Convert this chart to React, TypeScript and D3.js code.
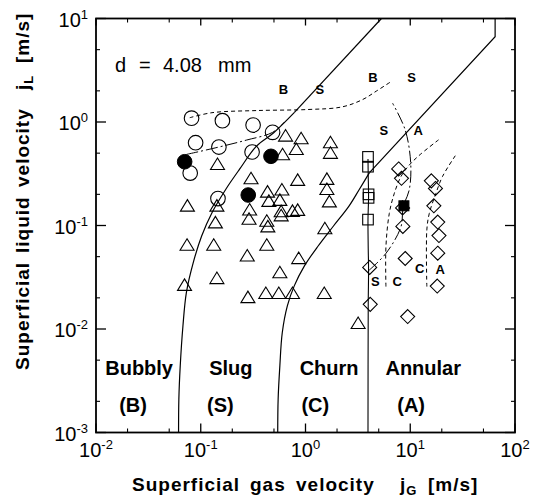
import React from 'react';
import * as d3 from 'd3';

type P = [number, number];

const xMajor = [1e-2, 1e-1, 1e0, 1e1, 1e2];
const xExponents = ['-2', '-1', '0', '1', '2'];
const yMajor = [1e-3, 1e-2, 1e-1, 1e0, 1e1];
const yExponents = ['-3', '-2', '-1', '0', '1'];
const minorMultipliers = [2, 5];

const openCircles: P[] = [
  [0.0817, 1.09], [0.161, 1.03], [0.316, 0.934], [0.485, 0.794], [0.0893, 0.631],
  [0.149, 0.573], [0.309, 0.513], [0.0793, 0.321], [0.146, 0.182],
];
const filledCircles: P[] = [[0.0702, 0.413], [0.468, 0.466], [0.284, 0.197]];
const triangles: P[] = [
  [0.0746, 0.154], [0.074, 0.0644], [0.07, 0.0264], [0.1445, 0.389], [0.1426, 0.154],
  [0.138, 0.106], [0.133, 0.0644], [0.1426, 0.0307], [0.302, 0.283], [0.293, 0.141],
  [0.289, 0.115], [0.278, 0.0508], [0.282, 0.0201], [0.434, 0.21], [0.447, 0.171],
  [0.427, 0.11], [0.437, 0.097], [0.427, 0.0644], [0.418, 0.022], [0.645, 0.731],
  [0.604, 0.483], [0.595, 0.22], [0.569, 0.175], [0.586, 0.136], [0.586, 0.124],
  [0.569, 0.035], [0.556, 0.022], [0.751, 0.137], [0.908, 0.689], [0.817, 0.543],
  [0.842, 0.273], [0.842, 0.14], [0.861, 0.0479], [0.751, 0.022], [1.73, 0.631],
  [1.73, 0.498], [1.6, 0.279], [1.6, 0.223], [1.69, 0.169], [1.53, 0.093],
  [1.51, 0.022], [3.18, 0.0113],
];
const openSquares: P[] = [[3.95, 0.46], [3.95, 0.37], [4.0, 0.2], [4.0, 0.185], [3.95, 0.114]];
const filledSquares: P[] = [[8.7, 0.155]];
const diamonds: P[] = [
  [7.75, 0.352], [8.25, 0.286], [8.45, 0.148], [8.5, 0.098], [8.95, 0.048],
  [4.1, 0.0393], [4.15, 0.0173], [9.45, 0.0132], [15.9, 0.27], [17.4, 0.228],
  [16.8, 0.155], [18.3, 0.108], [18.8, 0.08], [18.3, 0.054], [18.1, 0.026],
];

// boundary curves
const bsCurve: P[] = [
  [0.0614, 0.001], [0.0618, 0.0021], [0.0637, 0.0044], [0.0676, 0.0107], [0.0729, 0.0225],
  [0.0848, 0.0438], [0.102, 0.0792], [0.128, 0.133], [0.173, 0.223], [0.234, 0.348],
  [0.341, 0.585], [0.497, 0.787], [0.78, 1.23],
];
const bsStraight: P[] = [[0.78, 1.23], [5.31, 10]];
const scCurve: P[] = [
  [0.543, 0.001], [0.548, 0.0021], [0.569, 0.0044], [0.6, 0.0092], [0.671, 0.0167],
  [0.781, 0.0261], [0.977, 0.0407], [1.32, 0.0634], [1.85, 0.0989], [2.6, 0.154],
  [3.26, 0.223], [4.08, 0.324],
];
const scStraight: P[] = [[4.08, 0.324], [64.6, 6.67], [64.6, 10]];
const caLine: P[] = [
  [3.95, 0.44], [3.97, 0.3], [4.0, 0.19], [3.95, 0.114], [3.97, 0.06], [4.0, 0.038],
  [3.97, 0.017], [3.95, 0.001],
];
const saCurve: P[] = [
  [4.05, 0.037], [5.86, 0.0538], [8.15, 0.097], [8.57, 0.152], [9.77, 0.22],
  [10.1, 0.399], [8.95, 0.838], [6.78, 1.52],
];
const circleLink: P[] = [[0.073, 0.486], [0.149, 0.573], [0.272, 0.668], [0.485, 0.794], [0.63, 1.0]];
const bsDashed: P[] = [
  [0.0785, 1.1], [0.128, 1.23], [0.341, 1.29], [1.05, 1.32], [2.24, 1.4],
  [3.52, 1.65], [4.75, 1.99], [6.66, 2.48],
];
const scDashed: P[] = [
  [5.86, 0.0257], [5.86, 0.0624], [6.31, 0.131], [7.05, 0.205], [8.15, 0.297],
  [9.6, 0.375], [12.0, 0.47], [18.9, 0.68],
];
const caDashed: P[] = [
  [14.4, 0.0257], [14.4, 0.0906], [15.2, 0.131], [17.6, 0.205], [20.3, 0.297], [27.2, 0.48],
];

const smallLabels: { t: string; v: P }[] = [
  { t: 'B', v: [0.617, 2.07] }, { t: 'S', v: [1.37, 2.07] },
  { t: 'B', v: [4.4, 2.73] }, { t: 'S', v: [10.3, 2.73] },
  { t: 'S', v: [5.6, 0.836] }, { t: 'A', v: [11.9, 0.836] },
  { t: 'S', v: [4.65, 0.0288] }, { t: 'C', v: [7.5, 0.0288] },
  { t: 'C', v: [12.3, 0.039] }, { t: 'A', v: [19.3, 0.0378] },
];
const regionNames = ['Bubbly', 'Slug', 'Churn', 'Annular'];
const regionCodes = ['(B)', '(S)', '(C)', '(A)'];
const regionNameX = [0.0258, 0.194, 1.68, 13.3];
const regionCodeX = [0.0226, 0.154, 1.24, 10.2];

const FONT = '"Liberation Sans", Arial, Helvetica, sans-serif';

export default function App() {
  const x = d3.scaleLog().domain([1e-2, 1e2]).range([96, 515]);
  const y = d3.scaleLog().domain([1e-3, 1e1]).range([432.5, 18.5]);
  const lin = d3.line<P>().x(d => x(d[0])).y(d => y(d[1]));
  const smooth = d3.line<P>().x(d => x(d[0])).y(d => y(d[1])).curve(d3.curveCatmullRom.alpha(0.5));

  const L = 96, R = 515, T = 18.5, B = 432.5;
  const xMinor: number[] = [];
  const yMinor: number[] = [];
  for (let e = -3; e < 2; e++) {
    minorMultipliers.forEach(m => {
      const v = m * Math.pow(10, e);
      if (v > 1e-2 && v < 1e2) xMinor.push(v);
      if (v > 1e-3 && v < 1e1) yMinor.push(v);
    });
  }

  const tri = (cx: number, cy: number) => `M${cx},${cy - 6.5}L${cx + 7},${cy + 5}L${cx - 7},${cy + 5}Z`;
  const dia = (cx: number, cy: number) => `M${cx},${cy - 7}L${cx + 7},${cy}L${cx},${cy + 7}L${cx - 7},${cy}Z`;

  return (
    <svg width={536} height={500} style={{ position: 'absolute', left: 0, top: 0, background: '#fff' }}
      fontFamily={FONT}>
      <rect x={0} y={0} width={536} height={500} fill="#fff" />
      {/* frame */}
      <rect x={L} y={T} width={R - L} height={B - T} fill="none" stroke="#000" strokeWidth={1.8} />
      {/* ticks */}
      {xMajor.map((v, i) => (
        <g key={'xm' + i}>
          <line x1={x(v)} x2={x(v)} y1={B} y2={B - 9} stroke="#000" strokeWidth={1.3} />
          <line x1={x(v)} x2={x(v)} y1={T} y2={T + 7} stroke="#000" strokeWidth={1.3} />
        </g>
      ))}
      {xMinor.map((v, i) => (
        <g key={'xn' + i}>
          <line x1={x(v)} x2={x(v)} y1={B} y2={B - 4} stroke="#000" strokeWidth={1.1} />
          <line x1={x(v)} x2={x(v)} y1={T} y2={T + 4} stroke="#000" strokeWidth={1.1} />
        </g>
      ))}
      {yMajor.map((v, i) => (
        <g key={'ym' + i}>
          <line x1={L} x2={L + 10} y1={y(v)} y2={y(v)} stroke="#000" strokeWidth={1.3} />
          <line x1={R} x2={R - 10} y1={y(v)} y2={y(v)} stroke="#000" strokeWidth={1.3} />
        </g>
      ))}
      {yMinor.map((v, i) => (
        <g key={'yn' + i}>
          <line x1={L} x2={L + 4} y1={y(v)} y2={y(v)} stroke="#000" strokeWidth={1.1} />
          <line x1={R} x2={R - 4} y1={y(v)} y2={y(v)} stroke="#000" strokeWidth={1.1} />
        </g>
      ))}
      {/* tick labels */}
      {xMajor.map((v, i) => (
        <text key={'xl' + i} x={x(v)} y={457} textAnchor="middle" fontSize={20}>
          10<tspan dy={-8} fontSize={13}>{xExponents[i]}</tspan>
        </text>
      ))}
      {yMajor.map((v, i) => (
        <text key={'yl' + i} x={88} y={y(v) + 8} textAnchor="end" fontSize={20}>
          10<tspan dy={-8} fontSize={13}>{yExponents[i]}</tspan>
        </text>
      ))}
      {/* axis titles */}
      <text y={491} fontSize={19} fontWeight="bold" letterSpacing={1}>
        <tspan x={132}>Superficial</tspan>
        <tspan x={250}>gas</tspan>
        <tspan x={296}>velocity</tspan>
        <tspan x={400}>j</tspan>
        <tspan dy={4} fontSize={13}>G</tspan>
        <tspan x={428} dy={-4}>[m/s]</tspan>
      </text>
      <g transform="translate(29,0) rotate(-90)">
        <text y={0} fontSize={19} fontWeight="bold" letterSpacing={1}>
          <tspan x={-370}>Superficial</tspan>
          <tspan x={-253}>liquid</tspan>
          <tspan x={-187}>velocity</tspan>
          <tspan x={-90}>j</tspan>
          <tspan dy={4} fontSize={13}>L</tspan>
          <tspan x={-63} dy={-4}>[m/s]</tspan>
        </text>
      </g>
      {/* d label */}
      <text y={72} fontSize={20}>
        <tspan x={115}>d</tspan>
        <tspan x={139}>=</tspan>
        <tspan x={163}>4.08</tspan>
        <tspan x={218}>mm</tspan>
      </text>
      {/* boundary lines */}
      <g fill="none" stroke="#000">
        <path d={smooth(bsCurve) || ''} strokeWidth={1.2} />
        <path d={lin(bsStraight) || ''} strokeWidth={1.2} />
        <path d={smooth(scCurve) || ''} strokeWidth={1.2} />
        <path d={lin(scStraight) || ''} strokeWidth={1.2} />
        <path d={smooth(caLine) || ''} strokeWidth={1.1} />
        <path d={smooth(saCurve) || ''} strokeWidth={1} strokeDasharray="12,3,2,3" />
        <path d={smooth(circleLink) || ''} strokeWidth={1} strokeDasharray="12,3,2,3" />
        <path d={smooth(bsDashed) || ''} strokeWidth={1} strokeDasharray="4,3" />
        <path d={smooth(scDashed) || ''} strokeWidth={1} strokeDasharray="4,3" />
        <path d={smooth(caDashed) || ''} strokeWidth={1} strokeDasharray="4,3" />
      </g>
      {/* markers */}
      <g fill="none" stroke="#000" strokeWidth={1.1}>
        {openCircles.map((d, i) => <circle key={'oc' + i} cx={x(d[0])} cy={y(d[1])} r={7.3} />)}
        {triangles.map((d, i) => <path key={'tr' + i} d={tri(x(d[0]), y(d[1]))} />)}
        {openSquares.map((d, i) => <rect key={'os' + i} x={x(d[0]) - 5.3} y={y(d[1]) - 5.3} width={10.6} height={10.6} />)}
        {diamonds.map((d, i) => <path key={'di' + i} d={dia(x(d[0]), y(d[1]))} />)}
      </g>
      <g fill="#000" stroke="#000">
        {filledCircles.map((d, i) => <circle key={'fc' + i} cx={x(d[0])} cy={y(d[1])} r={7.3} />)}
        {filledSquares.map((d, i) => <rect key={'fs' + i} x={x(d[0]) - 5} y={y(d[1]) - 5} width={10} height={10} />)}
      </g>
      {/* small boundary labels */}
      {smallLabels.map((l, i) => (
        <text key={'sl' + i} x={x(l.v[0])} y={y(l.v[1]) + 5} textAnchor="middle" fontSize={13} fontWeight="bold">{l.t}</text>
      ))}
      {/* regions */}
      {regionNames.map((n, i) => (
        <text key={'rn' + i} x={x(regionNameX[i])} y={375} textAnchor="middle" fontSize={20} fontWeight="bold">{n}</text>
      ))}
      {regionCodes.map((n, i) => (
        <text key={'rc' + i} x={x(regionCodeX[i])} y={412} textAnchor="middle" fontSize={20} fontWeight="bold">{n}</text>
      ))}
    </svg>
  );
}
